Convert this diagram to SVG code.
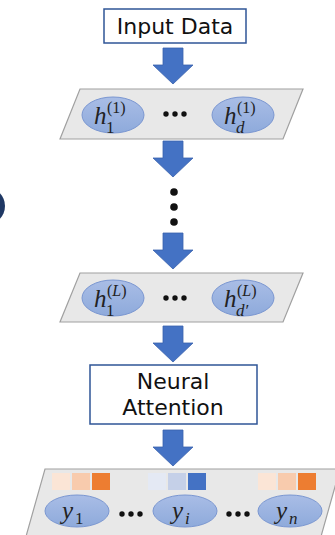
<svg xmlns="http://www.w3.org/2000/svg" width="335" height="535" viewBox="0 0 335 535">
  <defs>
    <linearGradient id="ellFill" x1="0" y1="0" x2="0" y2="1">
      <stop offset="0" stop-color="#a9bde6"/>
      <stop offset="1" stop-color="#8eaadb"/>
    </linearGradient>
    <path id="arrow" d="M-10,0 H10 V17 H20 L0,36 L-20,17 H-10 Z"/>
    <style>
      .box { fill: #ffffff; stroke: #2f5597; stroke-width: 1.5; }
      .layer { fill: #e8e8e8; stroke: #a0a0a0; stroke-width: 1.2; }
      .ell { fill: url(#ellFill); stroke: #7b97d1; stroke-width: 1; }
      .arr { fill: #4472c4; stroke: #3a62ad; stroke-width: 0.8; }
      .label { font-family: "Comic Sans MS", "DejaVu Sans", sans-serif; font-size: 22px; fill: #111111; text-anchor: middle; }
      .math { font-family: "Liberation Serif", "DejaVu Serif", serif; font-style: italic; fill: #222222; }
      .big { font-size: 25px; }
      .small { font-size: 17px; }
      .num { font-size: 17px; font-style: normal; }
      .up { font-size: 16px; font-style: normal; }
      .it { font-style: italic; }
      .dot { fill: #111111; }
    </style>
  </defs>

  <!-- partial dark disc on the left edge -->
  <circle cx="-14" cy="206" r="19" fill="#1f3864"/>

  <!-- connectors -->
  <g id="connectors">
    <use href="#arrow" class="arr" x="173" y="48"/>
    <use href="#arrow" class="arr" x="173" y="141"/>
    <circle class="dot" cx="174" cy="192" r="3.8"/>
    <circle class="dot" cx="174" cy="207" r="3.8"/>
    <circle class="dot" cx="174" cy="222" r="3.8"/>
    <use href="#arrow" class="arr" x="173" y="233"/>
    <use href="#arrow" class="arr" x="173" y="326"/>
    <use href="#arrow" class="arr" x="173" y="430"/>
  </g>

  <!-- input box -->
  <g id="input">
    <rect class="box" x="104" y="9" width="142" height="34"/>
    <text class="label" x="175" y="34">Input Data</text>
  </g>

  <!-- first hidden layer -->
  <g id="layer1">
    <polygon class="layer" points="80,89 303,89 283,139 60,139"/>
    <ellipse class="ell" cx="113" cy="115" rx="31" ry="18"/>
    <text class="math big" x="94" y="124">h</text>
    <text class="math num" x="106" y="133">1</text>
    <text class="math up" x="107" y="113">(1)</text>
    <circle class="dot" cx="166" cy="114" r="2.7"/>
    <circle class="dot" cx="175" cy="114" r="2.7"/>
    <circle class="dot" cx="184" cy="114" r="2.7"/>
    <ellipse class="ell" cx="243" cy="115" rx="31" ry="18"/>
    <text class="math big" x="224" y="124">h</text>
    <text class="math small" x="236" y="133">d</text>
    <text class="math up" x="237" y="113">(1)</text>
  </g>

  <!-- last hidden layer -->
  <g id="layerL">
    <polygon class="layer" points="80,273 303,273 283,322 60,322"/>
    <ellipse class="ell" cx="113" cy="298" rx="31" ry="18"/>
    <text class="math big" x="94" y="307">h</text>
    <text class="math num" x="106" y="316">1</text>
    <text class="math up" x="107" y="296">(<tspan class="it">L</tspan>)</text>
    <circle class="dot" cx="166" cy="298" r="2.7"/>
    <circle class="dot" cx="175" cy="298" r="2.7"/>
    <circle class="dot" cx="184" cy="298" r="2.7"/>
    <ellipse class="ell" cx="243" cy="298" rx="31" ry="18"/>
    <text class="math big" x="224" y="307">h</text>
    <text class="math small" x="236" y="316">d′</text>
    <text class="math up" x="237" y="296">(<tspan class="it">L</tspan>)</text>
  </g>

  <!-- attention box -->
  <g id="attention">
    <rect class="box" x="90" y="365" width="167" height="59"/>
    <text class="label" x="173" y="389">Neural</text>
    <text class="label" x="173" y="415">Attention</text>
  </g>

  <!-- output layer -->
  <g id="output">
    <polygon class="layer" points="45,469 340,469 320,540 25,540"/>
    <rect x="52" y="473" width="18" height="17" fill="#fbe5d6"/>
    <rect x="72" y="473" width="18" height="17" fill="#f8cbad"/>
    <rect x="92" y="473" width="18" height="17" fill="#ed7d31"/>
    <rect x="148" y="473" width="18" height="17" fill="#e4e9f4"/>
    <rect x="168" y="473" width="18" height="17" fill="#c5d0e8"/>
    <rect x="188" y="473" width="18" height="17" fill="#4472c4"/>
    <rect x="258" y="473" width="18" height="17" fill="#fbe5d6"/>
    <rect x="278" y="473" width="18" height="17" fill="#f8cbad"/>
    <rect x="298" y="473" width="18" height="17" fill="#ed7d31"/>
    <ellipse class="ell" cx="77" cy="511" rx="32" ry="16"/>
    <text class="math big" x="62" y="519">y</text>
    <text class="math num" x="75" y="524">1</text>
    <circle class="dot" cx="122" cy="514" r="2.7"/>
    <circle class="dot" cx="131" cy="514" r="2.7"/>
    <circle class="dot" cx="140" cy="514" r="2.7"/>
    <ellipse class="ell" cx="185" cy="511" rx="32" ry="16"/>
    <text class="math big" x="172" y="519">y</text>
    <text class="math small" x="185" y="524">i</text>
    <circle class="dot" cx="229" cy="514" r="2.7"/>
    <circle class="dot" cx="238" cy="514" r="2.7"/>
    <circle class="dot" cx="247" cy="514" r="2.7"/>
    <ellipse class="ell" cx="290" cy="511" rx="32" ry="16"/>
    <text class="math big" x="276" y="519">y</text>
    <text class="math small" x="289" y="524">n</text>
  </g>
</svg>
